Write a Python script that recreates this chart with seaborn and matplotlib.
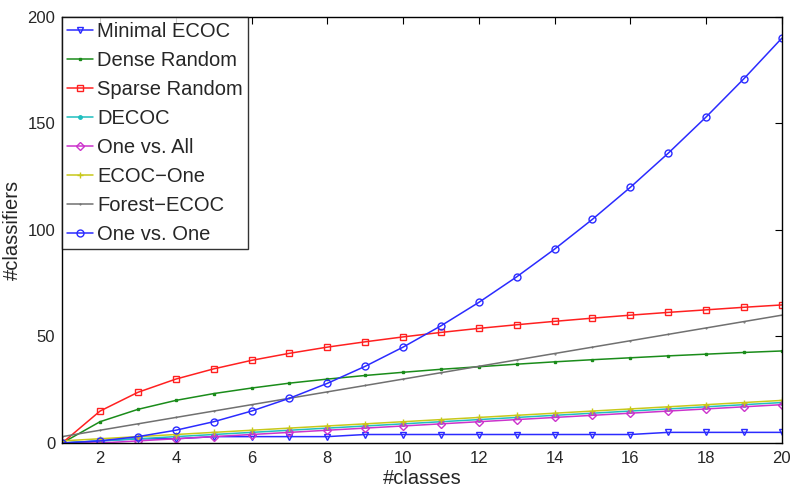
import numpy as np
import pandas as pd
import matplotlib
matplotlib.use('Agg')
import matplotlib.pyplot as plt
import seaborn as sns

classes = list(range(1, 21))

minimal_ecoc = [0, 1, 2, 2, 3, 3, 3, 3, 4, 4, 4, 4, 4, 4, 4, 4, 5, 5, 5, 5]
dense_random = [0, 10, 15.8, 20, 23.2, 25.8, 28.1, 30, 31.7, 33.2, 34.6, 35.8, 37,
                38.1, 39.1, 40, 40.9, 41.7, 42.5, 43.2]
sparse_random = [0, 15, 23.8, 30, 34.8, 38.8, 42.1, 45, 47.5, 49.8, 51.9, 53.8, 55.5,
                 57.1, 58.6, 60, 61.3, 62.5, 63.7, 64.8]
decoc = [0, 1, 2, 3, 4, 5, 6, 7, 8, 9, 10, 11, 12, 13, 14, 15, 16, 17, 18, 19]
one_vs_all = [0, 0, 1, 2, 3, 4, 5, 6, 7, 8, 9, 10, 11, 12, 13, 14, 15, 16, 17, 18]
ecoc_one = [1, 2, 3, 4, 5, 6, 7, 8, 9, 10, 11, 12, 13, 14, 15, 16, 17, 18, 19, 20]
forest_ecoc = [3, 6, 9, 12, 15, 18, 21, 24, 27, 30, 33, 36, 39, 42, 45, 48, 51, 54, 57, 60]
one_vs_one = [0, 1, 3, 6, 10, 15, 21, 28, 36, 45, 55, 66, 78, 91, 105, 120, 136, 153, 171, 190]

series = {
    'Minimal ECOC': minimal_ecoc,
    'Dense Random': dense_random,
    'Sparse Random': sparse_random,
    'DECOC': decoc,
    'One vs. All': one_vs_all,
    'ECOC\u2212One': ecoc_one,
    'Forest\u2212ECOC': forest_ecoc,
    'One vs. One': one_vs_one,
}

# colour, marker, marker size, open marker?
estilos = {
    'Minimal ECOC': ('#2b2bff', 'v', 5, True),
    'Dense Random': ('#1a8c1a', 's', 2, False),
    'Sparse Random': ('#ff2020', 's', 5, True),
    'DECOC': ('#1fbfbf', 'o', 2.5, False),
    'One vs. All': ('#cc33cc', 'D', 4, True),
    'ECOC\u2212One': ('#c8c81a', '+', 5, False),
    'Forest\u2212ECOC': ('#707070', '.', 1, False),
    'One vs. One': ('#2b2bff', 'o', 5, True),
}

sns.set_style('white')
plt.rcParams['font.family'] = ['Liberation Sans', 'DejaVu Sans']

fig = plt.figure(figsize=(7.97, 4.95), dpi=100)
ax = fig.add_axes([0.078, 0.105, 0.903, 0.861])

for nome, valores in series.items():
    cor, marc, tam, aberto = estilos[nome]
    df = pd.DataFrame({'classes': classes, 'n': valores})
    sns.lineplot(data=df, x='classes', y='n', ax=ax, color=cor, marker=marc,
                 markersize=tam, linewidth=1.1, label=nome,
                 markerfacecolor='none' if aberto else cor,
                 markeredgecolor=cor, markeredgewidth=1.0)

ax.set_xlim(1, 20)
ax.set_ylim(0, 200)
ax.set_xticks(range(2, 21, 2))
ax.set_yticks(range(0, 201, 50))
ax.tick_params(direction='in', top=True, right=True, labelsize=12, length=5,
               color='black')
ax.tick_params(axis='x', pad=6)
ax.tick_params(axis='y', pad=5)
for s in ax.spines.values():
    s.set_color('black')
    s.set_linewidth(1.0)
ax.set_xlabel('#classes', fontsize=14.5, labelpad=2)
ax.set_ylabel('#classifiers', fontsize=14.5, labelpad=4)

leg = ax.legend(loc='upper left', fontsize=14.5, frameon=True, fancybox=False,
                borderaxespad=0.0, handlelength=1.3, handletextpad=0.2,
                labelspacing=0.5, borderpad=0.25)
leg.get_frame().set_edgecolor('black')
leg.get_frame().set_linewidth(1.0)

plt.savefig('out.png', dpi=100)
